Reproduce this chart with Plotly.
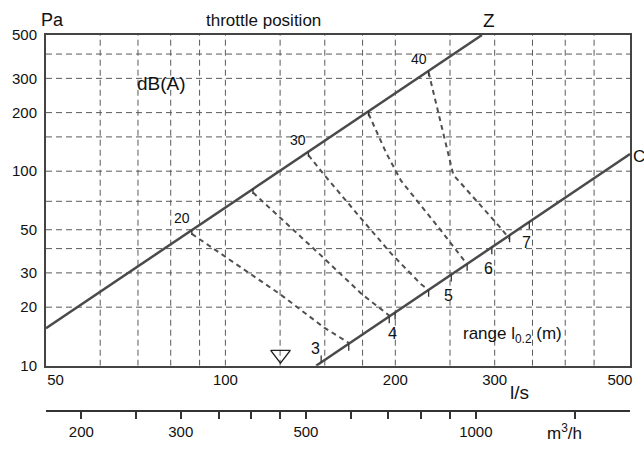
import numpy as np
import plotly.graph_objects as go

# ---------------- data ----------------
x_ticks = [50, 100, 200, 300, 500]
y_ticks = [10, 20, 30, 50, 100, 200, 300, 500]
x_grid = [60, 70, 80, 90, 100, 125, 150, 175, 200, 250, 300, 350, 400, 450]
y_grid = [20, 30, 40, 50, 70, 100, 150, 200, 300, 400]
m3h_ticks = [200, 250, 300, 350, 400, 450, 500, 600, 700, 800, 900, 1000, 1500]
m3h_labels = ['200', '', '300', '', '', '', '500', '', '', '', '', '1000', '']

# characteristic lines (flow l/s, pressure Pa)
z_flow = [48.1, 284.8]
z_pa = [15.6, 501.0]
c_flow = [144.8, 521.0]
c_pa = [10.0, 122.4]

# dB(A) curves (throttle position)
db_levels = [20, 25, 30, 35, 40]
curve_flow = [
    [87.2, 98.0, 124.8, 149.6, 165.4],
    [111.9, 130.4, 148.4, 174.3, 195.1],
    [140.3, 149.6, 174.3, 196.7, 221.9, 229.1],
    [179.3, 192.8, 204.7, 240.5, 268.1],
    [229.1, 245.4, 253.4, 306.2, 318.8],
]
curve_pa = [
    [47.6, 37.7, 23.4, 15.7, 13.1],
    [77.7, 51.7, 36.4, 23.4, 18.1],
    [120.9, 95.8, 56.7, 37.7, 26.3, 24.5],
    [197.3, 123.8, 89.3, 49.9, 33.2],
    [321.8, 142.4, 95.8, 51.7, 44.9],
]

# range l0.2 (m) marks on line C
range_flow = [147.8, 199.8, 251.3, 296.5, 345.5]
range_labels = ['3', '4', '5', '6', '7']

# valve symbol
valve_flow = [125.2]
valve_pa = [11.4]

# ---------------- helpers ----------------
X_RANGE = [np.log10(48.1), np.log10(521.0)]
Y_RANGE = [1.0, 2.7]
M3H = 3.6
FONT = "Liberation Sans Narrow, Arial Narrow, Liberation Sans, Arial, sans-serif"
LINE_COL = '#4a4a4a'
GRID_COL = '#5a5a5a'
TICK_F = 10 ** (-7 / 197.6)


def on_line(q, fl, pa):
    return 10 ** np.interp(np.log10(q), np.log10(fl), np.log10(pa))


fig = go.Figure()

# grid lines
gx, gy = [], []
for v in x_grid:
    gx += [v, v, None]
    gy += [10 ** Y_RANGE[0], 10 ** Y_RANGE[1], None]
fig.add_trace(go.Scatter(x=gx, y=gy, mode='lines', hoverinfo='skip',
                         line=dict(color=GRID_COL, width=1, dash='6px,4px')))
gx, gy = [], []
for v in y_grid:
    gx += [10 ** X_RANGE[0], 10 ** X_RANGE[1], None]
    gy += [v, v, None]
fig.add_trace(go.Scatter(x=gx, y=gy, mode='lines', hoverinfo='skip',
                         line=dict(color=GRID_COL, width=1, dash='6px,4px')))

# dB curves
for fl, pa in zip(curve_flow, curve_pa):
    fig.add_trace(go.Scatter(x=fl, y=pa, mode='lines', hoverinfo='skip',
                             line=dict(color='#505050', width=2, dash='5px,4px')))

# Z and C lines
fig.add_trace(go.Scatter(x=z_flow, y=z_pa, mode='lines', hoverinfo='skip',
                         line=dict(color=LINE_COL, width=2.5)))
fig.add_trace(go.Scatter(x=c_flow, y=c_pa, mode='lines', hoverinfo='skip',
                         line=dict(color=LINE_COL, width=2.5)))

# ticks on Z at curve starts
tx, ty = [], []
for fl in curve_flow:
    p = on_line(fl[0], z_flow, z_pa)
    tx += [fl[0], fl[0], None]
    ty += [p, p * 10 ** (-5 / 197.6), None]
# ticks on C: range marks + curve ends
ymin = 10 ** Y_RANGE[0]
for q in list(range_flow) + [fl[-1] for fl in curve_flow]:
    p = on_line(q, c_flow, c_pa)
    lo = p * TICK_F
    if lo < ymin * 1.02:
        lo = p / TICK_F
    tx += [q, q, None]
    ty += [p, lo, None]
fig.add_trace(go.Scatter(x=tx, y=ty, mode='lines', hoverinfo='skip',
                         line=dict(color='#333333', width=1.3)))

# valve symbol
fig.add_trace(go.Scatter(x=valve_flow, y=valve_pa, mode='markers', hoverinfo='skip',
                         marker=dict(symbol='triangle-down-open', size=17,
                                     color='#222222', line=dict(width=1.4, color='#222222'))))

# dummy trace for m3/h axis
fig.add_trace(go.Scatter(x=[500], y=[20], xaxis='x2', yaxis='y', mode='markers',
                         marker=dict(opacity=0), hoverinfo='skip'))

annotations = []
# dB labels
for lvl, fl in zip(db_levels, curve_flow):
    if lvl % 10 == 0:
        p = on_line(fl[0], z_flow, z_pa)
        annotations.append(dict(x=np.log10(fl[0]), y=np.log10(p), xref='x', yref='y',
                                text=str(lvl), showarrow=False, xshift=-10, yshift=12,
                                font=dict(size=14, family=FONT, color='#111')))
# range labels
for q, lab in zip(range_flow, range_labels):
    p = on_line(q, c_flow, c_pa)
    if p * TICK_F < ymin * 1.02:
        xs, ys = -6, 14
    else:
        xs, ys = -3, -21
    annotations.append(dict(x=np.log10(q), y=np.log10(p), xref='x', yref='y',
                            text=lab, showarrow=False, xshift=xs, yshift=ys,
                            font=dict(size=16, family=FONT, color='#111')))

W_PLOT = 592.0
H_PAPER = 382.0


def px(xp):
    return (xp - 40) / W_PLOT


def py(yp):
    return (417 - yp) / H_PAPER


texts = [
    ('Pa', 47, 20, 18, 'center'),
    ('throttle position', 260, 20, 17, 'center'),
    ('Z', 489, 20, 19, 'center'),
    ('C', 633, 158, 17, 'left'),
    ('dB(A)', 157, 84, 19, 'center'),
    ('range l<sub>0.2</sub> (m)', 513, 340, 17, 'center'),
    ('l/s', 520, 398, 19, 'center'),
    ('m<sup>3</sup>/h', 566, 438, 17, 'center'),
]
for t, xp, yp, fs, anc in texts:
    annotations.append(dict(x=px(xp), y=py(yp), xref='paper', yref='paper', text=t,
                            showarrow=False, xanchor=anc, yanchor='middle',
                            font=dict(size=fs, family=FONT, color='#111')))

fig.update_layout(
    width=644, height=452,
    margin=dict(l=40, r=12, t=35, b=35),
    paper_bgcolor='white', plot_bgcolor='white',
    showlegend=False,
    font=dict(family=FONT, color='#111', size=15),
    xaxis=dict(type='log', range=X_RANGE, tickvals=x_ticks,
               ticktext=[str(v) for v in x_ticks], ticks='', showgrid=False,
               zeroline=False, showline=True, mirror=True, linecolor='#444',
               linewidth=1.5, tickfont=dict(size=15, family=FONT, color='#111')),
    xaxis2=dict(type='log', range=[X_RANGE[0] + np.log10(M3H), X_RANGE[1] + np.log10(M3H)],
                overlaying='x', anchor='free', position=0, side='bottom',
                tickvals=m3h_ticks, ticktext=m3h_labels, ticks='outside', ticklen=7,
                tickwidth=1.5, tickcolor='#333', showgrid=False, zeroline=False,
                showline=True, linecolor='#333', linewidth=1.5,
                tickfont=dict(size=15, family=FONT, color='#111')),
    yaxis=dict(type='log', range=Y_RANGE, domain=[(417 - 371) / H_PAPER, 1],
               tickvals=y_ticks, ticktext=[str(v) for v in y_ticks], ticks='',
               showgrid=False, zeroline=False, showline=True, mirror=True,
               linecolor='#444', linewidth=2, ticklabelstandoff=4,
               tickfont=dict(size=15, family=FONT, color='#111')),
    annotations=annotations,
)

fig.write_html("out.html")
